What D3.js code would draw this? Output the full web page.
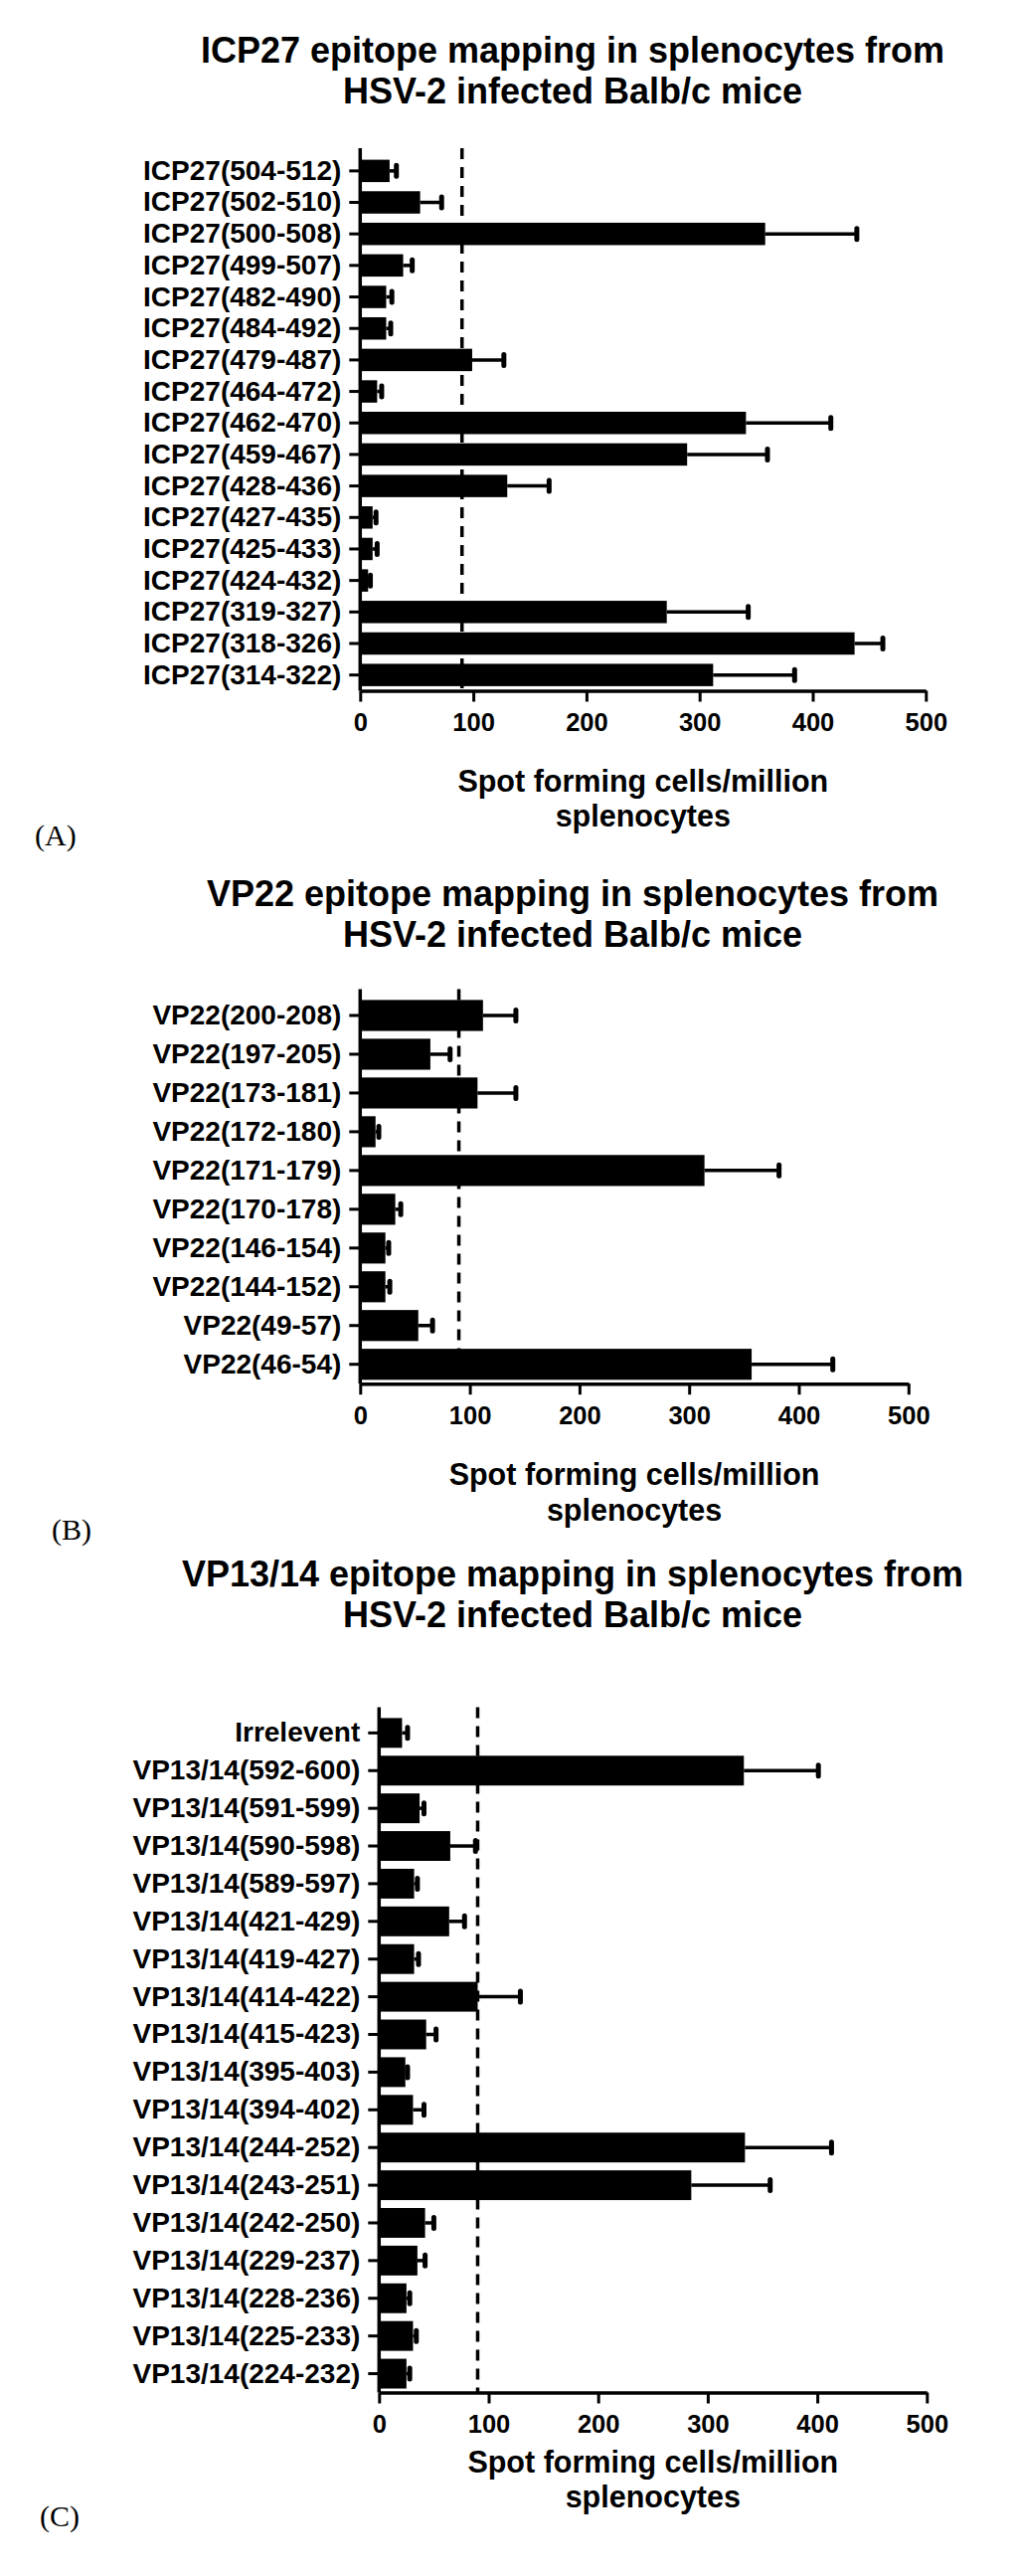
<!DOCTYPE html>
<html>
<head>
<meta charset="utf-8">
<script src="https://cdnjs.cloudflare.com/ajax/libs/d3/7.8.5/d3.min.js"></script>
<style>
    body { margin: 0; background: #fff; }
    svg text { font-family: "Liberation Sans", Arial, sans-serif; font-weight: bold; fill: #000; }
    svg text.tag { font-family: "Liberation Serif", "Times New Roman", serif; font-weight: normal; }
</style>
</head>
<body>
<svg id="chart" width="1024" height="2590"></svg>
<script>
// shared x axis ticks and the dashed cut-off value
const xTicks = [0, 100, 200, 300, 400, 500];
const cutoff = 90;
const axisTitle = ['Spot forming cells/million', 'splenocytes'];

// (A) ICP27
const icpLabels = ['ICP27(504-512)', 'ICP27(502-510)', 'ICP27(500-508)', 'ICP27(499-507)', 'ICP27(482-490)',
    'ICP27(484-492)', 'ICP27(479-487)', 'ICP27(464-472)', 'ICP27(462-470)', 'ICP27(459-467)', 'ICP27(428-436)',
    'ICP27(427-435)', 'ICP27(425-433)', 'ICP27(424-432)', 'ICP27(319-327)', 'ICP27(318-326)', 'ICP27(314-322)'];
const icpMeans = [26, 53, 358, 38, 23, 23, 99, 15, 341, 289, 130, 11, 11, 7, 271, 437, 312];
const icpSem = [6, 19, 81, 8, 5, 4, 28, 4, 75, 71, 37, 3, 4, 2, 72, 25, 72];

// (B) VP22
const vp22Labels = ['VP22(200-208)', 'VP22(197-205)', 'VP22(173-181)', 'VP22(172-180)', 'VP22(171-179)',
    'VP22(170-178)', 'VP22(146-154)', 'VP22(144-152)', 'VP22(49-57)', 'VP22(46-54)'];
const vp22Means = [112, 64, 107, 14, 314, 32, 23, 23, 53, 357];
const vp22Sem = [30, 18, 35, 3, 68, 5, 3, 4, 13, 74];

// (C) VP13/14
const vp13Labels = ['Irrelevent', 'VP13/14(592-600)', 'VP13/14(591-599)', 'VP13/14(590-598)', 'VP13/14(589-597)',
    'VP13/14(421-429)', 'VP13/14(419-427)', 'VP13/14(414-422)', 'VP13/14(415-423)', 'VP13/14(395-403)',
    'VP13/14(394-402)', 'VP13/14(244-252)', 'VP13/14(243-251)', 'VP13/14(242-250)', 'VP13/14(229-237)',
    'VP13/14(228-236)', 'VP13/14(225-233)', 'VP13/14(224-232)'];
const vp13Means = [21, 333, 37, 65, 32, 64, 32, 90, 43, 24, 31, 334, 285, 42, 35, 25, 31, 25];
const vp13Sem = [5, 68, 4, 23, 3, 14, 4, 39, 9, 2, 10, 79, 72, 8, 7, 3, 3, 3];

const svg = d3.select('#chart');

function drawPanel(p) {
    const g = svg.append('g');
    const rows = p.labels.map((d, i) => ({ label: d, mean: p.means[i], sem: p.sem[i] }));

    // scales
    const xScale = d3.scaleLinear()
        .domain([0, 500])
        .range([p.x0, p.x1]);
    const yScale = d3.scaleBand()
        .domain(p.labels)
        .range([p.top, p.bottom])
        .paddingInner(p.pad)
        .paddingOuter(p.pad / 2);

    // title
    g.append('text')
        .attr('text-anchor', 'middle')
        .attr('font-size', 36)
        .selectAll('tspan')
        .data([p.title, 'HSV-2 infected Balb/c mice'])
        .enter()
        .append('tspan')
        .attr('x', 576)
        .attr('y', (d, i) => p.titleY + i * 41)
        .text(d => d);

    // dashed cut-off line, behind the bars
    g.append('line')
        .attr('x1', xScale(cutoff))
        .attr('x2', xScale(cutoff))
        .attr('y1', p.top - 7)
        .attr('y2', p.bottom)
        .attr('stroke', '#000')
        .attr('stroke-width', 3.5)
        .attr('stroke-dasharray', '11 8');

    // bars
    g.selectAll('rect.bar')
        .data(rows)
        .enter()
        .append('rect')
        .attr('class', 'bar')
        .attr('x', xScale(0))
        .attr('y', d => yScale(d.label))
        .attr('width', d => xScale(d.mean) - xScale(0))
        .attr('height', yScale.bandwidth())
        .attr('fill', '#000');

    // error bars (upper side only)
    const cy = d => yScale(d.label) + yScale.bandwidth() / 2;
    g.selectAll('line.err')
        .data(rows)
        .enter()
        .append('line')
        .attr('class', 'err')
        .attr('x1', d => xScale(d.mean))
        .attr('x2', d => xScale(d.mean + d.sem))
        .attr('y1', cy)
        .attr('y2', cy)
        .attr('stroke', '#000')
        .attr('stroke-width', 3.5);
    g.selectAll('line.cap')
        .data(rows)
        .enter()
        .append('line')
        .attr('class', 'cap')
        .attr('x1', d => xScale(d.mean + d.sem))
        .attr('x2', d => xScale(d.mean + d.sem))
        .attr('y1', d => cy(d) - 5.5)
        .attr('y2', d => cy(d) + 5.5)
        .attr('stroke', '#000')
        .attr('stroke-width', 5)
        .attr('stroke-linecap', 'round');

    // axes
    const xAxis = g.append('g')
        .attr('transform', `translate(0, ${p.bottom})`)
        .call(d3.axisBottom(xScale).tickValues(xTicks).tickSize(11).tickSizeOuter(0));
    const yAxis = g.append('g')
        .attr('transform', `translate(${xScale(0)}, 0)`)
        .call(d3.axisLeft(yScale).tickSize(11).tickSizeOuter(0));
    yAxis.select('.domain').attr('d', `M0,${p.top - 7}V${p.bottom}`);

    [xAxis, yAxis].forEach(a => {
        a.select('.domain').attr('stroke-width', 3.5);
        a.selectAll('.tick line').attr('stroke-width', 3);
        a.selectAll('text').attr('font-family', null);
    });
    xAxis.selectAll('text')
        .attr('font-size', 25.5)
        .attr('y', 40.5)
        .attr('dy', null);
    yAxis.selectAll('text')
        .attr('font-size', 28)
        .attr('x', -19);

    // x axis title, centered under the axis
    g.append('text')
        .attr('text-anchor', 'middle')
        .attr('font-size', 30.5)
        .selectAll('tspan')
        .data(axisTitle)
        .enter()
        .append('tspan')
        .attr('x', (p.x0 + p.x1) / 2)
        .attr('y', (d, i) => p.bottom + p.labelGap + i * 35.5)
        .text(d => d);

    // panel letter
    g.append('text')
        .attr('class', 'tag')
        .attr('font-size', 30)
        .attr('x', p.tagX)
        .attr('y', p.tagY)
        .text(p.tag);
}

drawPanel({
    labels: icpLabels, means: icpMeans, sem: icpSem,
    title: 'ICP27 epitope mapping in splenocytes from', titleY: 63,
    x0: 362.3, x1: 931.3, top: 156, bottom: 694.5, pad: 0.29,
    labelGap: 101, tag: '(A)', tagX: 35, tagY: 850
});
drawPanel({
    labels: vp22Labels, means: vp22Means, sem: vp22Sem,
    title: 'VP22 epitope mapping in splenocytes from', titleY: 911,
    x0: 362.3, x1: 913.8, top: 1001.5, bottom: 1391.2, pad: 0.2,
    labelGap: 102, tag: '(B)', tagX: 52, tagY: 1548
});
drawPanel({
    labels: vp13Labels, means: vp13Means, sem: vp13Sem,
    title: 'VP13/14 epitope mapping in splenocytes from', titleY: 1595,
    x0: 381.3, x1: 932.3, top: 1723.4, bottom: 2405.5, pad: 0.21,
    labelGap: 80, tag: '(C)', tagX: 40, tagY: 2540
});
</script>
</body>
</html>
